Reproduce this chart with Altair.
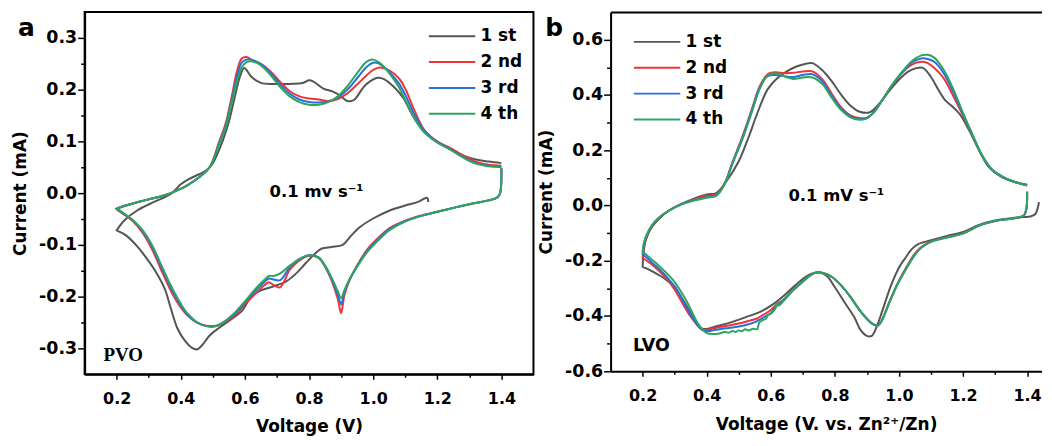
import altair as alt
import pandas as pd

FONT = "DejaVu Sans"
CYCLES = ["1 st", "2 nd", "3 rd", "4 th"]
COLORS = ["#555555", "#ee3535", "#2a6fdb", "#2ea55c"]

# ---------------- Panel a : PVO ----------------
# cycle 1 (starts at OCV, cathodic first)
pvo1_cat_v = [1.172, 1.168, 1.14, 1.1, 1.05, 1.0, 0.96, 0.93, 0.905, 0.87,
              0.84, 0.82, 0.79, 0.76, 0.73, 0.69, 0.65, 0.62, 0.59, 0.55,
              0.52, 0.49, 0.465, 0.45, 0.435, 0.415, 0.39, 0.37, 0.35, 0.32,
              0.29, 0.26, 0.23, 0.2]
pvo1_cat_i = [-0.017, -0.009, -0.017, -0.024, -0.034, -0.049, -0.065, -0.083, -0.1, -0.104,
              -0.107, -0.116, -0.135, -0.155, -0.17, -0.18, -0.188, -0.2, -0.228, -0.247,
              -0.26, -0.275, -0.295, -0.302, -0.299, -0.287, -0.262, -0.225, -0.185, -0.15,
              -0.123, -0.1, -0.082, -0.072]
pvo1_an_v = [0.2, 0.225, 0.265, 0.32, 0.37, 0.4, 0.425, 0.455, 0.48, 0.5,
             0.53, 0.55, 0.57, 0.585, 0.598, 0.62, 0.65, 0.69, 0.74, 0.78,
             0.8, 0.815, 0.845, 0.875, 0.9, 0.92, 0.94, 0.97, 0.99, 1.015,
             1.035, 1.065, 1.095, 1.125, 1.16, 1.2, 1.24, 1.28, 1.32, 1.36, 1.4]
pvo1_an_i = [-0.072, -0.052, -0.033, -0.016, -0.001, 0.017, 0.027, 0.036, 0.044, 0.058,
             0.1, 0.138, 0.19, 0.226, 0.242, 0.225, 0.213, 0.211, 0.211, 0.213,
             0.218, 0.215, 0.202, 0.196, 0.187, 0.178, 0.18, 0.205, 0.216, 0.223,
             0.22, 0.205, 0.183, 0.148, 0.118, 0.098, 0.087, 0.073, 0.065, 0.061, 0.058]

# cycles 2-4
pvo_cat_v = [1.4, 1.395, 1.385, 1.36, 1.31, 1.26, 1.2, 1.15, 1.1, 1.05,
             1.01, 0.98, 0.95, 0.925, 0.91, 0.9, 0.89, 0.87, 0.85, 0.83,
             0.8, 0.77, 0.74, 0.71, 0.69, 0.675, 0.66, 0.63, 0.6, 0.57,
             0.54, 0.51, 0.48, 0.45, 0.42, 0.4, 0.37, 0.34, 0.31, 0.28,
             0.25, 0.22, 0.2]
pvo2_cat_i = [0.048, -0.002, -0.009, -0.014, -0.02, -0.027, -0.036, -0.043, -0.053, -0.068,
              -0.09, -0.11, -0.14, -0.17, -0.198, -0.232, -0.205, -0.168, -0.142, -0.125,
              -0.121, -0.13, -0.148, -0.182, -0.178, -0.172, -0.178, -0.196, -0.215, -0.235,
              -0.249, -0.256, -0.256, -0.25, -0.236, -0.221, -0.19, -0.15, -0.108, -0.076,
              -0.054, -0.04, -0.031]
pvo3_cat_i = [0.048, -0.002, -0.009, -0.014, -0.02, -0.027, -0.036, -0.044, -0.054, -0.07,
              -0.093, -0.113, -0.141, -0.169, -0.192, -0.215, -0.197, -0.165, -0.141, -0.124,
              -0.12, -0.128, -0.143, -0.168, -0.167, -0.165, -0.172, -0.19, -0.211, -0.232,
              -0.247, -0.257, -0.257, -0.25, -0.234, -0.217, -0.184, -0.144, -0.103, -0.073,
              -0.053, -0.039, -0.030]
pvo4_cat_i = [0.048, -0.002, -0.009, -0.014, -0.02, -0.027, -0.036, -0.044, -0.055, -0.072,
              -0.095, -0.115, -0.142, -0.168, -0.188, -0.203, -0.19, -0.163, -0.14, -0.125,
              -0.12, -0.127, -0.14, -0.155, -0.16, -0.16, -0.168, -0.187, -0.209, -0.23,
              -0.246, -0.257, -0.257, -0.249, -0.232, -0.214, -0.18, -0.14, -0.1, -0.071,
              -0.052, -0.038, -0.030]
pvo_an_v = [0.2, 0.25, 0.3, 0.35, 0.38, 0.42, 0.46, 0.49, 0.52, 0.54,
            0.56, 0.575, 0.59, 0.605, 0.62, 0.65, 0.68, 0.71, 0.74, 0.77,
            0.8, 0.83, 0.86, 0.89, 0.92, 0.95, 0.98, 1.0, 1.02, 1.05,
            1.08, 1.1, 1.13, 1.16, 1.2, 1.24, 1.28, 1.32, 1.36, 1.4]
pvo2_an_i = [-0.030, -0.020, -0.012, -0.004, 0.003, 0.015, 0.032, 0.05, 0.1, 0.135,
             0.19, 0.235, 0.26, 0.263, 0.258, 0.25, 0.235, 0.215, 0.197, 0.187,
             0.183, 0.181, 0.178, 0.182, 0.193, 0.21, 0.228, 0.238, 0.243, 0.237,
             0.222, 0.202, 0.158, 0.122, 0.1, 0.087, 0.073, 0.061, 0.055, 0.053]
pvo3_an_i = [-0.030, -0.020, -0.012, -0.004, 0.003, 0.015, 0.032, 0.05, 0.097, 0.13,
             0.183, 0.225, 0.252, 0.258, 0.258, 0.249, 0.232, 0.21, 0.192, 0.181,
             0.176, 0.175, 0.177, 0.185, 0.2, 0.222, 0.244, 0.252, 0.25, 0.234,
             0.212, 0.19, 0.15, 0.12, 0.099, 0.085, 0.07, 0.058, 0.053, 0.051]
pvo4_an_i = [-0.030, -0.020, -0.012, -0.004, 0.003, 0.015, 0.032, 0.05, 0.095, 0.127,
             0.178, 0.215, 0.243, 0.253, 0.255, 0.247, 0.228, 0.205, 0.187, 0.176,
             0.171, 0.171, 0.176, 0.187, 0.207, 0.232, 0.254, 0.258, 0.252, 0.232,
             0.205, 0.18, 0.143, 0.117, 0.098, 0.084, 0.069, 0.057, 0.052, 0.05]

# ---------------- Panel b : LVO ----------------
lvo1_cat_v = [1.437, 1.433, 1.425, 1.41, 1.39, 1.35, 1.3, 1.25, 1.2, 1.15,
              1.1, 1.06, 1.04, 1.02, 1.0, 0.975, 0.95, 0.93, 0.915, 0.9,
              0.88, 0.86, 0.83, 0.8, 0.775, 0.75, 0.725, 0.69, 0.65, 0.61,
              0.57, 0.52, 0.47, 0.43, 0.4, 0.385, 0.37, 0.355, 0.34, 0.32,
              0.3, 0.28, 0.26, 0.24, 0.22, 0.2]
lvo1_cat_i = [0.012, -0.01, -0.032, -0.04, -0.042, -0.046, -0.054, -0.07, -0.096, -0.11,
              -0.126, -0.14, -0.158, -0.19, -0.225, -0.29, -0.375, -0.44, -0.472, -0.472,
              -0.45, -0.403, -0.35, -0.296, -0.255, -0.243, -0.248, -0.275, -0.317, -0.355,
              -0.383, -0.405, -0.425, -0.437, -0.447, -0.445, -0.43, -0.4, -0.368, -0.33,
              -0.295, -0.275, -0.258, -0.245, -0.232, -0.222]
lvo1_an_v = [0.2, 0.203, 0.21, 0.225, 0.25, 0.28, 0.32, 0.36, 0.4, 0.43,
             0.46, 0.5, 0.53, 0.56, 0.59, 0.62, 0.65, 0.68, 0.71, 0.73,
             0.76, 0.79, 0.82, 0.85, 0.88, 0.91, 0.94, 0.97, 1.0, 1.03,
             1.055, 1.075, 1.1, 1.125, 1.145, 1.165, 1.19, 1.22, 1.25, 1.28,
             1.32, 1.36, 1.4]
lvo1_an_i = [-0.222, -0.17, -0.125, -0.085, -0.05, -0.02, 0.005, 0.025, 0.04, 0.045,
             0.085, 0.16, 0.245, 0.34, 0.42, 0.46, 0.485, 0.503, 0.513, 0.515,
             0.49, 0.45, 0.4, 0.36, 0.338, 0.338, 0.37, 0.415, 0.455, 0.485,
             0.497, 0.498, 0.465, 0.415, 0.38, 0.36, 0.33, 0.27, 0.2, 0.14,
             0.103, 0.085, 0.075]

lvo_cat_v = [1.4, 1.398, 1.39, 1.36, 1.31, 1.25, 1.2, 1.15, 1.1, 1.067,
             1.046, 1.03, 1.015, 0.998, 0.983, 0.97, 0.957, 0.945, 0.935, 0.92,
             0.9, 0.875, 0.848, 0.82, 0.79, 0.765, 0.745, 0.725, 0.7, 0.67,
             0.64, 0.615, 0.6, 0.585, 0.57, 0.555, 0.53, 0.5, 0.47, 0.44,
             0.42, 0.4, 0.385, 0.37, 0.355, 0.34, 0.32, 0.3, 0.275, 0.25,
             0.225, 0.2]
lvo2_cat_i = [0.05, -0.01, -0.036, -0.046, -0.054, -0.073, -0.1, -0.115, -0.13, -0.153,
              -0.18, -0.21, -0.24, -0.277, -0.315, -0.35, -0.388, -0.42, -0.434, -0.43,
              -0.41, -0.375, -0.33, -0.29, -0.258, -0.245, -0.242, -0.252, -0.276, -0.306,
              -0.34, -0.362, -0.378, -0.39, -0.4, -0.41, -0.418, -0.427, -0.434, -0.44,
              -0.445, -0.45, -0.448, -0.432, -0.41, -0.385, -0.345, -0.305, -0.265, -0.235,
              -0.21, -0.19]
lvo3_cat_i = [0.05, -0.01, -0.036, -0.046, -0.054, -0.073, -0.101, -0.115, -0.131, -0.155,
              -0.183, -0.213, -0.243, -0.279, -0.316, -0.351, -0.389, -0.42, -0.434, -0.43,
              -0.41, -0.375, -0.33, -0.29, -0.258, -0.245, -0.242, -0.251, -0.275, -0.306,
              -0.343, -0.367, -0.39, -0.4, -0.41, -0.42, -0.43, -0.438, -0.443, -0.448,
              -0.452, -0.455, -0.45, -0.432, -0.405, -0.375, -0.332, -0.293, -0.258, -0.228,
              -0.202, -0.176]
# cycle 4 has its own (noisier) cathodic trace
lvo4_cat_v = [1.4, 1.398, 1.39, 1.36, 1.31, 1.25, 1.2, 1.15, 1.1, 1.067,
              1.046, 1.03, 1.015, 0.998, 0.983, 0.97, 0.957, 0.945, 0.935, 0.92,
              0.9, 0.875, 0.848, 0.82, 0.79, 0.765, 0.745, 0.725, 0.7, 0.67,
              0.64, 0.625, 0.62, 0.615, 0.6, 0.59, 0.585, 0.575, 0.565, 0.56,
              0.558, 0.545, 0.53, 0.52, 0.51, 0.5, 0.49, 0.48, 0.47, 0.455,
              0.44, 0.42, 0.4, 0.385, 0.37, 0.355, 0.34, 0.32, 0.3, 0.275,
              0.25, 0.225, 0.2]
lvo4_cat_i = [0.05, -0.01, -0.036, -0.046, -0.054, -0.073, -0.102, -0.116, -0.132, -0.156,
              -0.185, -0.215, -0.245, -0.28, -0.317, -0.352, -0.389, -0.42, -0.434, -0.43,
              -0.41, -0.375, -0.33, -0.29, -0.258, -0.245, -0.242, -0.25, -0.275, -0.306,
              -0.345, -0.362, -0.352, -0.372, -0.392, -0.398, -0.41, -0.415, -0.422, -0.44,
              -0.448, -0.446, -0.452, -0.448, -0.455, -0.452, -0.458, -0.454, -0.46, -0.458,
              -0.463, -0.465, -0.462, -0.447, -0.422, -0.388, -0.352, -0.312, -0.277, -0.245,
              -0.217, -0.192, -0.167]
lvo_an_v = [0.2, 0.205, 0.215, 0.23, 0.25, 0.28, 0.32, 0.36, 0.4, 0.43,
            0.455, 0.48, 0.51, 0.54, 0.565, 0.59, 0.615, 0.64, 0.67, 0.7,
            0.73, 0.76, 0.79, 0.82, 0.85, 0.88, 0.9, 0.92, 0.95, 0.98,
            1.01, 1.04, 1.07, 1.09, 1.11, 1.14, 1.17, 1.2, 1.23, 1.26,
            1.29, 1.33, 1.37, 1.4]
lvo2_an_i = [-0.19, -0.14, -0.105, -0.072, -0.046, -0.02, 0.005, 0.022, 0.035, 0.04,
             0.078, 0.155, 0.245, 0.345, 0.43, 0.475, 0.482, 0.479, 0.48, 0.485,
             0.485, 0.458, 0.405, 0.355, 0.325, 0.316, 0.318, 0.335, 0.385, 0.437,
             0.48, 0.51, 0.52, 0.515, 0.498, 0.46, 0.395, 0.325, 0.252, 0.18,
             0.13, 0.1, 0.082, 0.073]
lvo3_an_i = [-0.176, -0.135, -0.102, -0.071, -0.045, -0.02, 0.004, 0.02, 0.03, 0.037,
             0.076, 0.152, 0.24, 0.34, 0.425, 0.468, 0.472, 0.468, 0.465, 0.472,
             0.475, 0.45, 0.397, 0.35, 0.321, 0.312, 0.316, 0.335, 0.385, 0.437,
             0.482, 0.518, 0.532, 0.53, 0.52, 0.478, 0.41, 0.33, 0.254, 0.18,
             0.13, 0.1, 0.082, 0.073]
lvo4_an_i = [-0.167, -0.13, -0.1, -0.07, -0.045, -0.02, 0.003, 0.018, 0.028, 0.035,
             0.075, 0.15, 0.235, 0.335, 0.42, 0.47, 0.478, 0.468, 0.458, 0.463,
             0.463, 0.44, 0.39, 0.345, 0.318, 0.31, 0.315, 0.335, 0.385, 0.438,
             0.483, 0.522, 0.543, 0.545, 0.535, 0.49, 0.42, 0.335, 0.255, 0.18,
             0.13, 0.1, 0.082, 0.072]

# ---------------- annotations ----------------
pvo_note_text = ["0.1 mv s\u207b\u00b9"]
pvo_note_v = [0.677]
pvo_note_i = [0.003]
lvo_note_text = ["0.1 mV s\u207b\u00b9"]
lvo_note_v = [0.655]
lvo_note_i = [0.035]
pvo_name = ["PVO"]; pvo_name_v = [0.159]; pvo_name_i = [-0.313]
lvo_name = ["LVO"]; lvo_name_v = [0.170]; lvo_name_i = [-0.507]
letter_a = ["a"]; letter_a_v = [-0.108]; letter_a_i = [0.303]
letter_b = ["b"]; letter_b_v = [-0.104]; letter_b_i = [0.6125]

x_major = [0.2, 0.4, 0.6, 0.8, 1.0, 1.2, 1.4]
x_minor = [0.3, 0.5, 0.7, 0.9, 1.1, 1.3]
pvo_y_major = [-0.3, -0.2, -0.1, 0.0, 0.1, 0.2, 0.3]
pvo_y_minor = [-0.25, -0.15, -0.05, 0.05, 0.15, 0.25]
lvo_y_major = [-0.6, -0.4, -0.2, 0.0, 0.2, 0.4, 0.6]
lvo_y_minor = [-0.5, -0.3, -0.1, 0.1, 0.3, 0.5]


def build(series):
    rows = []
    for name, parts in series:
        k = 0
        for vs, cs in parts:
            for v, c in zip(vs, cs):
                rows.append({"cycle": name, "V": v, "I": c, "k": k})
                k += 1
    return pd.DataFrame(rows)


pvo_df = build([
    ("1 st", [(pvo1_cat_v, pvo1_cat_i), (pvo1_an_v, pvo1_an_i)]),
    ("2 nd", [(pvo_cat_v, pvo2_cat_i), (pvo_an_v, pvo2_an_i)]),
    ("3 rd", [(pvo_cat_v, pvo3_cat_i), (pvo_an_v, pvo3_an_i)]),
    ("4 th", [(pvo_cat_v, pvo4_cat_i), (pvo_an_v, pvo4_an_i)]),
])
lvo_df = build([
    ("1 st", [(lvo1_cat_v, lvo1_cat_i), (lvo1_an_v, lvo1_an_i)]),
    ("2 nd", [(lvo_cat_v, lvo2_cat_i), (lvo_an_v, lvo2_an_i)]),
    ("3 rd", [(lvo_cat_v, lvo3_cat_i), (lvo_an_v, lvo3_an_i)]),
    ("4 th", [(lvo4_cat_v, lvo4_cat_i), (lvo_an_v, lvo4_an_i)]),
])

LABEL_EXPR = "replace(format(datum.value, '.1f'), '\u2212', '-')"


def major_x(title):
    return alt.Axis(orient="bottom", values=x_major, labelExpr=LABEL_EXPR, title=title,
                    labelFont=FONT, labelFontWeight="bold", labelFontSize=16,
                    labelColor="black", labelPadding=11, tickSize=5, tickWidth=1.5,
                    tickColor="black", domainColor="black", domainWidth=2,
                    titleFont=FONT, titleFontWeight="bold", titleFontSize=17,
                    titleColor="black", titlePadding=13, grid=False)


def major_y(vals):
    return alt.Axis(orient="left", values=vals, labelExpr=LABEL_EXPR, title="Current (mA)",
                    labelFont=FONT, labelFontWeight="bold", labelFontSize=17.5,
                    labelColor="black", labelPadding=1, tickSize=7, tickWidth=1.5,
                    tickColor="black", domainColor="black", domainWidth=2,
                    titleFont=FONT, titleFontWeight="bold", titleFontSize=17,
                    titleColor="black", titlePadding=9, grid=False)


def minor_axis(orient, vals, size):
    return alt.Axis(orient=orient, values=vals, labels=False, title=None, tickSize=size,
                    tickWidth=1.5, tickColor="black", domain=False, grid=False)


def panel(df, xdom, ydom, ymaj, ymin, xtitle, w, h, leg_x, leg_y,
          note, name, name_font, name_size, letter, frame):
    xs = alt.Scale(domain=xdom, nice=False, zero=False)
    ys = alt.Scale(domain=ydom, nice=False, zero=False)
    lines = alt.Chart(df).mark_line(strokeWidth=2, interpolate="catmull-rom").encode(
        x=alt.X("V:Q", scale=xs, axis=major_x(xtitle)),
        y=alt.Y("I:Q", scale=ys, axis=major_y(ymaj)),
        color=alt.Color("cycle:N", scale=alt.Scale(domain=CYCLES, range=COLORS),
                        legend=alt.Legend(orient="none", legendX=leg_x, legendY=leg_y,
                                          title=None, symbolType="stroke", symbolSize=2170,
                                          symbolStrokeWidth=2, clipHeight=25.6, rowPadding=0,
                                          labelFont=FONT, labelFontSize=17,
                                          labelFontWeight="bold", labelColor="black",
                                          labelOffset=4, padding=0)),
        order=alt.Order("k:Q"),
    )
    note_df = pd.DataFrame({"t": note[0], "V": note[1], "I": note[2]})
    notes = alt.Chart(note_df).mark_text(align="left", baseline="middle", font=FONT,
                                         fontWeight="bold", fontSize=16.5,
                                         color="black").encode(
        x=alt.X("V:Q", scale=xs, axis=minor_axis("bottom", x_minor, 3)),
        y=alt.Y("I:Q", scale=ys, axis=minor_axis("left", ymin, 4)),
        text="t:N",
    )
    name_df = pd.DataFrame({"t": name[0], "V": name[1], "I": name[2]})
    names = alt.Chart(name_df).mark_text(align="left", baseline="middle", font=name_font,
                                         fontWeight="bold", fontSize=name_size,
                                         color="black").encode(
        x=alt.X("V:Q", scale=xs, axis=None),
        y=alt.Y("I:Q", scale=ys, axis=None),
        text="t:N",
    )
    let_df = pd.DataFrame({"t": letter[0], "V": letter[1], "I": letter[2]})
    if frame:
        top_axis = None
    else:
        top_axis = alt.Axis(orient="top", labels=False, ticks=False, title=None,
                            domainColor="black", domainWidth=2, grid=False)
    letters = alt.Chart(let_df).mark_text(align="left", baseline="alphabetic", font=FONT,
                                          fontWeight="bold", fontSize=25,
                                          color="black").encode(
        x=alt.X("V:Q", scale=xs, axis=top_axis),
        y=alt.Y("I:Q", scale=ys, axis=None),
        text="t:N",
    )
    if frame:
        view = alt.ViewBackground(stroke="black", strokeWidth=2)
    else:
        view = alt.ViewBackground(stroke="transparent")
    return alt.layer(lines, notes, names, letters).resolve_axis(
        x="independent", y="independent").properties(width=w, height=h, view=view)


pa = panel(pvo_df, [0.1, 1.5], [-0.35, 0.35], pvo_y_major, pvo_y_minor, "Voltage (V)",
           451, 364, 344.7, 11.5,
           (pvo_note_text, pvo_note_v, pvo_note_i),
           (pvo_name, pvo_name_v, pvo_name_i), "Liberation Serif", 19,
           (letter_a, letter_a_v, letter_a_i), True)
pb = panel(lvo_df, [0.1, 1.445], [-0.6, 0.7], lvo_y_major, lvo_y_minor,
           "Voltage (V. vs. Zn\u00b2\u207a/Zn)",
           433, 361, 22.2, 17.2,
           (lvo_note_text, lvo_note_v, lvo_note_i),
           (lvo_name, lvo_name_v, lvo_name_i), FONT, 17.5,
           (letter_b, letter_b_v, letter_b_i), False)

chart = alt.hconcat(pa, pb, spacing=77.5, bounds="flush",
                    padding={"left": 2, "top": 2, "right": 0, "bottom": 0}
                    ).resolve_scale(color="independent").configure(font=FONT)

chart.save("out.html", embed_options={"renderer": "svg", "actions": False})
